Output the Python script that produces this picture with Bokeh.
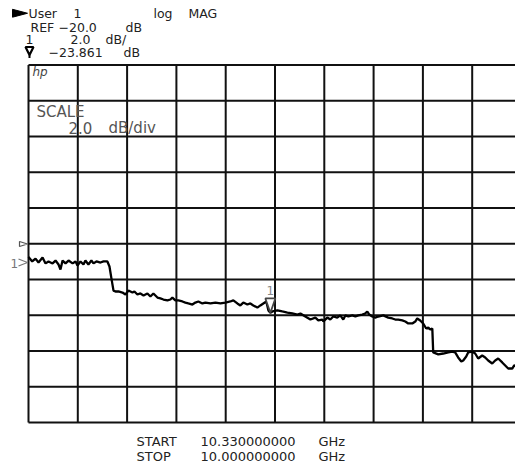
import numpy as np
from bokeh.plotting import figure
from bokeh.models import Range1d, Label
from bokeh.embed import file_html
from bokeh.resources import INLINE

# ---- instrument settings -------------------------------------------------
START_GHZ = 10.33
STOP_GHZ = 10.00
REF_DB = -20.0
SCALE_DB = 2.0
MARKER_DB = -23.861
MARKER_GHZ = 10.1681

freq_ghz = [
    10.3300, 10.3275, 10.3253, 10.3233, 10.3206, 10.3186, 10.3166, 10.3139, 10.3119, 10.3099,
    10.3086, 10.3072, 10.3052, 10.3032, 10.3005, 10.2985, 10.2972, 10.2952, 10.2932, 10.2919,
    10.2899, 10.2879, 10.2865, 10.2845, 10.2818, 10.2798, 10.2772, 10.2758, 10.2745, 10.2731,
    10.2718, 10.2698, 10.2671, 10.2651, 10.2631, 10.2604, 10.2591, 10.2571, 10.2551, 10.2530,
    10.2504, 10.2484, 10.2464, 10.2437, 10.2417, 10.2397, 10.2370, 10.2350, 10.2337, 10.2317,
    10.2297, 10.2270, 10.2250, 10.2230, 10.2203, 10.2183, 10.2163, 10.2136, 10.2116, 10.2082,
    10.2049, 10.2015, 10.1982, 10.1949, 10.1929, 10.1902, 10.1882, 10.1862, 10.1835, 10.1815,
    10.1795, 10.1768, 10.1748, 10.1728, 10.1708, 10.1694, 10.1681, 10.1667, 10.1634, 10.1601,
    10.1567, 10.1534, 10.1500, 10.1480, 10.1447, 10.1413, 10.1380, 10.1360, 10.1333, 10.1326,
    10.1300, 10.1280, 10.1260, 10.1233, 10.1213, 10.1193, 10.1179, 10.1159, 10.1132, 10.1112,
    10.1092, 10.1066, 10.1046, 10.1032, 10.1019, 10.0999, 10.0979, 10.0959, 10.0925, 10.0892,
    10.0865, 10.0845, 10.0825, 10.0798, 10.0778, 10.0758, 10.0731, 10.0711, 10.0698, 10.0678,
    10.0658, 10.0638, 10.0624, 10.0611, 10.0597, 10.0591, 10.0557, 10.0524, 10.0490, 10.0464,
    10.0444, 10.0424, 10.0403, 10.0390, 10.0370, 10.0357, 10.0330, 10.0310, 10.0290, 10.0263,
    10.0243, 10.0223, 10.0196, 10.0176, 10.0156, 10.0129, 10.0109, 10.0089, 10.0062, 10.0049,
    10.0000,
]
mag_db = [
    -20.74, -20.99, -20.83, -21.05, -20.77, -21.10, -20.99, -21.10, -20.94, -21.16,
    -21.44, -20.94, -21.10, -20.94, -21.10, -20.99, -21.22, -20.99, -21.16, -20.94,
    -21.16, -20.94, -21.10, -20.99, -21.05, -20.99, -20.99, -21.27, -21.94, -22.62,
    -22.67, -22.67, -22.73, -22.84, -22.62, -22.73, -22.67, -22.84, -22.78, -22.89,
    -22.78, -22.95, -22.78, -23.01, -23.06, -23.12, -23.17, -23.12, -23.01, -23.17,
    -23.17, -23.23, -23.29, -23.34, -23.40, -23.29, -23.23, -23.34, -23.29, -23.34,
    -23.29, -23.34, -23.29, -23.23, -23.17, -23.34, -23.45, -23.29, -23.40, -23.34,
    -23.45, -23.57, -23.45, -23.34, -23.23, -23.73, -23.86, -23.79, -23.73, -23.79,
    -23.85, -23.90, -23.96, -23.90, -24.07, -24.24, -24.13, -24.29, -24.24, -24.35,
    -24.13, -24.24, -24.07, -24.13, -24.01, -24.24, -24.01, -24.07, -24.01, -24.07,
    -24.01, -23.96, -23.90, -23.79, -23.96, -24.07, -24.13, -24.07, -24.01, -24.13,
    -24.18, -24.24, -24.24, -24.29, -24.35, -24.46, -24.46, -24.35, -24.18, -24.29,
    -24.46, -24.74, -24.69, -24.80, -24.74, -26.08, -26.19, -26.14, -26.08, -26.03,
    -26.08, -26.36, -26.59, -26.53, -26.31, -26.08, -26.03, -26.14, -26.42, -26.25,
    -26.36, -26.53, -26.70, -26.53, -26.42, -26.64, -26.81, -26.98, -26.98, -26.81,
    -26.92,
]

# graticule (10 x 10 divisions)
freq_ticks = list(np.linspace(START_GHZ, STOP_GHZ, 11))
db_ticks = list(np.linspace(REF_DB + 5 * SCALE_DB, REF_DB - 5 * SCALE_DB, 11))

# ---- layout constants (page pixels) --------------------------------------
X0_PX, DIV_W = 28.0, 49.3
Y0_PX, DIV_H = 64.5, 35.75
PAGE_L, PAGE_R, PAGE_T, PAGE_B = 0, 515, 0, 463
TEXT_DY = -4.5


def fx(px):
    return START_GHZ + (STOP_GHZ - START_GHZ) / 10.0 * (px - X0_PX) / DIV_W


def fy(py):
    return (REF_DB + 5 * SCALE_DB) - SCALE_DB * (py - Y0_PX) / DIV_H


p = figure(width=PAGE_R - PAGE_L, height=PAGE_B - PAGE_T,
           x_range=Range1d(fx(PAGE_L), fx(PAGE_R)),
           y_range=Range1d(fy(PAGE_B), fy(PAGE_T)),
           x_axis_type=None, y_axis_type=None,
           toolbar_location=None, output_backend="svg")
p.min_border = 0
p.outline_line_color = None
p.xgrid.visible = False
p.ygrid.visible = False
p.background_fill_color = "white"
p.border_fill_color = "white"

# graticule lines
top_db, bot_db = db_ticks[0], db_ticks[-1]
p.segment(x0=freq_ticks, x1=freq_ticks, y0=[top_db] * 11, y1=[bot_db] * 11,
          line_color="#111111", line_width=2)
p.segment(x0=[START_GHZ] * 11, x1=[STOP_GHZ] * 11, y0=db_ticks, y1=db_ticks,
          line_color="#111111", line_width=2)

# trace
p.line(freq_ghz, mag_db, line_color="black", line_width=2.3)

# marker 1 on trace
tip_y = MARKER_DB
mk_xs = [MARKER_GHZ + (fx(265) - fx(270)), MARKER_GHZ + (fx(275) - fx(270)), MARKER_GHZ]
mk_h = fy(298) - fy(312.3)
mk_ys = [tip_y + mk_h, tip_y + mk_h, tip_y]
p.patch(mk_xs, mk_ys, fill_color="white", line_color="#444444", line_width=1.8)


def lab(text, px, py, size=12.5, color="#222222", style="normal", font="DejaVu Sans"):
    p.add_layout(Label(x=fx(px), y=fy(py + TEXT_DY), text=text, text_font=font,
                       text_font_size=f"{size}px", text_color=color,
                       text_font_style=style, text_baseline="alphabetic",
                       text_align="left"))


# marker 1 label
lab("1", 266, 294, size=12, color="#888888")

# header
p.patch([fx(12), fx(12), fx(27)], [fy(8.8), fy(16.7), fy(12.75)],
        fill_color="black", line_color="black", line_width=1)
header = [("User", 28, 17), ("1", 73, 17), ("log", 153, 17), ("MAG", 188, 17),
          ("REF", 30, 31), ("\u221220.0", 58, 31), ("dB", 125, 31),
          ("1", 25, 43), ("2.0", 70, 43), ("dB/", 105, 43),
          ("\u221223.861", 48, 56), ("dB", 123, 56)]
for t, x, y in header:
    lab(t, x, y)
# header marker symbol
p.patch([fx(25), fx(33), fx(29)], [fy(46.5), fy(46.5), fy(54.5)],
        fill_color=None, line_color="black", line_width=2.2)
p.segment(x0=[fx(29)], x1=[fx(29)], y0=[fy(54.5)], y1=[fy(57.5)],
          line_color="black", line_width=2)

# inner annotations
lab("hp", 32, 76, size=12, color="#444444", style="italic")
lab("SCALE", 36, 116, size=15, color="#555555")
lab("2.0", 68, 132, size=15, color="#555555")
lab("dB/div", 108, 132, size=15, color="#555555")

# reference level marker and channel indicator
p.patch([fx(19), fx(19), fx(27)], [fy(241), fy(246), fy(243.5)],
        fill_color=None, line_color="#555555", line_width=1.2)
lab("1", 10, 267, size=12, color="#777777")
p.line([fx(18), fx(27), fx(18)], [fy(258.5), fy(262), fy(265.5)],
       line_color="#777777", line_width=1.2)

# footer
footer = [("START", 136, 445), ("10.330000000", 200, 445), ("GHz", 318, 445),
          ("STOP", 136, 460), ("10.000000000", 200, 460), ("GHz", 318, 460)]
for t, x, y in footer:
    lab(t, x, y, size=13)

open("out.html", "w").write(file_html(p, INLINE))
